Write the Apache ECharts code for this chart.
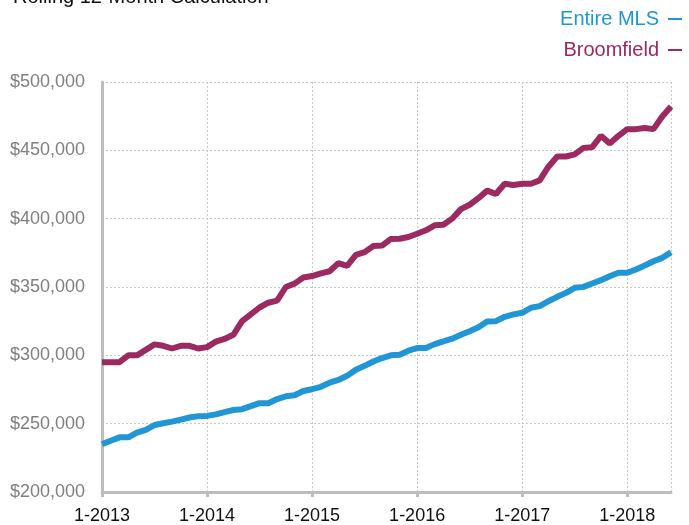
<!DOCTYPE html>
<html>
<head>
<meta charset="utf-8">
<script src="https://cdn.jsdelivr.net/npm/echarts@6/dist/echarts.min.js"></script>
<style>
html,body{margin:0;padding:0;background:#fff;}
#chart{width:689px;height:525px;}
</style>
</head>
<body>
<div id="chart"></div>
<script>
var startYear = 2013;
var monthCount = 66;
var yearTickLabels = ['1-2013','1-2014','1-2015','1-2016','1-2017','1-2018'];

var entireMLS = [
  235000, 237500, 240000, 240000, 243500, 245500, 249000, 250300, 251500, 253000, 254500, 255500,
  255700, 256800, 258500, 260000, 260600, 262800, 265000, 265000, 268000, 270000, 270800, 273900,
  275200, 277000, 280000, 282000, 285000, 289500, 292300, 295500, 298000, 300000, 300500, 303400,
  305300, 305300, 308200, 310200, 312200, 315000, 317700, 320500, 324800, 325000, 328200, 330000,
  331100, 334800, 336000, 339600, 342800, 345700, 349400, 350100, 352600, 355000, 357900, 360400,
  360400, 362800, 365700, 368800, 371300, 375400
];

var broomfield = [
  295000, 295000, 295000, 300000, 300000, 304000, 308000, 307000, 305000, 307000, 307000, 305000,
  306000, 310000, 312000, 315000, 325000, 330000, 335000, 338500, 340000, 350000, 352500, 357000,
  358000, 360000, 361500, 367500, 365500, 373500, 375500, 380000, 380300, 385200, 385300, 386600,
  389000, 391500, 395100, 395500, 400000, 407000, 410200, 415000, 420500, 418000, 425500, 424600,
  425500, 425500, 428000, 438000, 445500, 445500, 447000, 451800, 452300, 460600, 455000, 460600,
  465500, 465500, 466400, 465500, 474700, 482000
];

var categories = [];
for (var i = 0; i < monthCount; i++) {
  categories.push(((i % 12) + 1) + '-' + (startYear + Math.floor(i / 12)));
}

var blue = '#2196d4';
var maroon = '#9c2a60';
var fontFam = '"Liberation Sans", Arial, Helvetica, sans-serif';

var chart = echarts.init(document.getElementById('chart'), null, {renderer: 'canvas'});
chart.setOption({
  animation: false,
  backgroundColor: '#fff',
  title: {
    text: 'Rolling 12-Month Calculation',
    left: 8,
    top: -18,
    textStyle: {color: '#111', fontSize: 20, fontWeight: 'normal', fontFamily: fontFam}
  },
  legend: {
    orient: 'vertical',
    right: 2,
    top: 4,
    align: 'right',
    itemGap: 11,
    itemWidth: 14,
    itemHeight: 2,
    icon: 'rect',
    textStyle: {fontSize: 20, fontFamily: fontFam, padding: [0, 4, 0, 0]},
    data: [
      {name: 'Entire MLS', textStyle: {color: blue}},
      {name: 'Broomfield', textStyle: {color: maroon}}
    ]
  },
  grid: {left: 102, right: 18, top: 82, bottom: 32, containLabel: false},
  xAxis: {
    type: 'category',
    data: categories,
    boundaryGap: false,
    axisLine: {lineStyle: {color: '#bdbdbd', width: 3}},
    axisTick: {
      show: true,
      length: 5,
      lineStyle: {color: '#bdbdbd', width: 3},
      interval: function (idx) { return idx % 12 === 0; }
    },
    axisLabel: {
      color: '#111',
      fontSize: 18,
      fontFamily: fontFam,
      margin: 15,
      interval: function (idx, val) { return yearTickLabels.indexOf(val) >= 0; }
    },
    splitLine: {
      show: true,
      interval: function (idx) { return idx % 12 === 0 || idx === monthCount - 1; },
      lineStyle: {color: '#c8c8c8', type: [2, 2], width: 1}
    }
  },
  yAxis: {
    type: 'value',
    min: 200000,
    max: 500000,
    interval: 50000,
    axisLine: {show: true, lineStyle: {color: '#bdbdbd', width: 3}},
    axisTick: {show: false},
    axisLabel: {
      color: '#808080',
      fontSize: 18,
      fontFamily: fontFam,
      margin: 17,
      formatter: function (v) { return '$' + v.toLocaleString('en-US'); }
    },
    splitLine: {show: true, lineStyle: {color: '#c8c8c8', type: [2, 2], width: 1}}
  },
  series: [
    {
      name: 'Entire MLS',
      type: 'line',
      data: entireMLS,
      showSymbol: false,
      symbol: 'none',
      lineStyle: {color: blue, width: 6},
      itemStyle: {color: blue},
      z: 3
    },
    {
      name: 'Broomfield',
      type: 'line',
      data: broomfield,
      showSymbol: false,
      symbol: 'none',
      lineStyle: {color: maroon, width: 6},
      itemStyle: {color: maroon},
      z: 3
    }
  ]
});
</script>
</body>
</html>
